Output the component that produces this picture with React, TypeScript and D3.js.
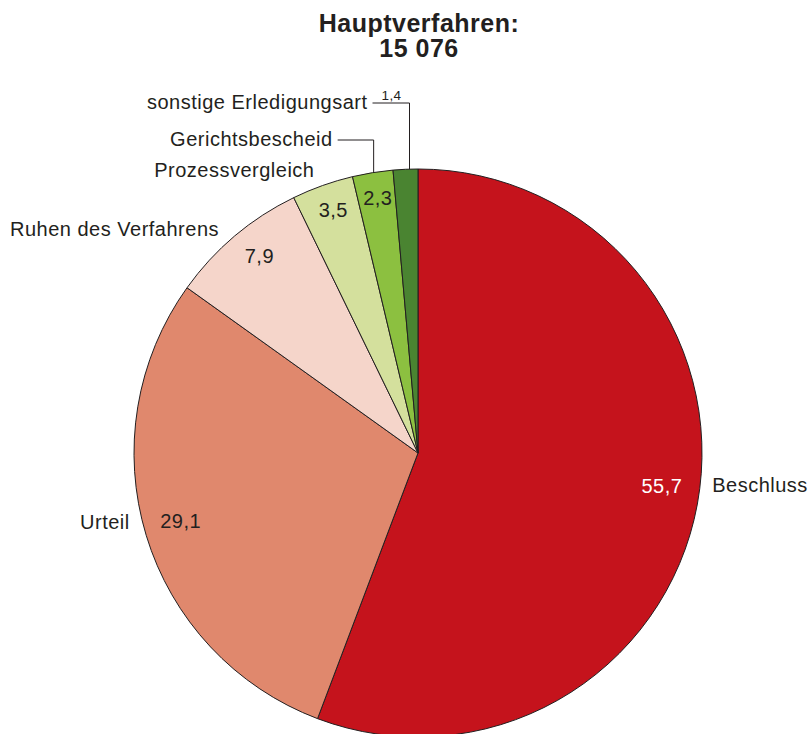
import React from "react";
import * as d3 from "d3";

const titleLines = ["Hauptverfahren:", "15 076"];
const categories = ["Beschluss", "Urteil", "Ruhen des Verfahrens", "Prozessvergleich", "Gerichtsbescheid", "sonstige Erledigungsart"];
const values = [55.7, 29.1, 7.9, 3.5, 2.3, 1.4];
const valueLabels = ["55,7", "29,1", "7,9", "3,5", "2,3", "1,4"];
const colors = ["#c5131c", "#e0886d", "#f5d5ca", "#d4e09d", "#8cc040", "#4a8431"];

const W = 810;
const H = 734;
const cx = 418;
const cy = 453;
const R = 284;
const FONT = "'Liberation Sans', Arial, Helvetica, sans-serif";
const INK = "#231f20";

// label styling/layout per slice (not data)
type InnerCfg = { r: number; dx: number; dy: number; fill: string };
const innerCfg: InnerCfg[] = [
  { r: 250, dx: -2, dy: -12, fill: "#ffffff" },
  { r: 250, dx: 2, dy: -4, fill: INK },
  { r: 252, dx: 4, dy: -4, fill: INK },
  { r: 258, dx: 2, dy: 0, fill: INK },
  { r: 258, dx: 1, dy: 0, fill: INK },
];
type OuterCfg = { off: number; dx: number; dy: number; anchor: string };
const outerCfg: OuterCfg[] = [
  { off: 12, dx: 3, dy: -14, anchor: "start" },
  { off: 12, dx: -5, dy: -10, anchor: "end" },
  { off: 12, dx: -8, dy: 9, anchor: "end" },
  { off: 12, dx: -4, dy: 3, anchor: "end" },
];
// leader-line labels (indices 4,5)
type LeaderCfg = { idx: number; lineY: number; len: number; dx: number };
const leaderCfg: LeaderCfg[] = [
  { idx: 4, lineY: 140, len: 36, dx: 1 },
  { idx: 5, lineY: 103, len: 37, dx: 4 },
];

export default function App() {
  const pie = d3
    .pie<number>()
    .sort(null)
    .value((d) => d)
    .startAngle(0)
    .endAngle(2 * Math.PI);
  const arcs = pie(values);
  const arc = d3.arc<d3.PieArcDatum<number>>().innerRadius(0).outerRadius(R);

  const pt = (angle: number, r: number): [number, number] => [
    cx + r * Math.sin(angle),
    cy - r * Math.cos(angle),
  ];
  const mid = (a: d3.PieArcDatum<number>) => (a.startAngle + a.endAngle) / 2;

  return (
    <svg
      width={W}
      height={H}
      style={{ position: "absolute", left: 0, top: 0, background: "#fff" }}
      fontFamily={FONT}
    >
      <text x={419} y={31.5} textAnchor="middle" fontSize={25} fontWeight="bold" letterSpacing={0.5} fill={INK}>
        {titleLines[0]}
      </text>
      <text x={419} y={57} textAnchor="middle" fontSize={25} fontWeight="bold" letterSpacing={0.5} fill={INK}>
        {titleLines[1]}
      </text>

      <g transform={`translate(${cx},${cy})`}>
        {arcs.map((a, i) => (
          <path key={i} d={arc(a) || ""} fill={colors[i]} stroke={INK} strokeWidth={1} strokeLinejoin="round" />
        ))}
      </g>

      {innerCfg.map((c, i) => {
        const [x, y] = pt(mid(arcs[i]), c.r);
        return (
          <text
            key={"in" + i}
            x={x + c.dx}
            y={y + c.dy}
            textAnchor="middle"
            dominantBaseline="central"
            fontSize={20}
            letterSpacing={0.5}
            fill={c.fill}
          >
            {valueLabels[i]}
          </text>
        );
      })}

      {outerCfg.map((c, i) => {
        const [x, y] = pt(mid(arcs[i]), R + c.off);
        return (
          <text
            key={"out" + i}
            x={x + c.dx}
            y={y + c.dy}
            textAnchor={c.anchor as any}
            fontSize={20}
            letterSpacing={0.5}
            fill={INK}
          >
            {categories[i]}
          </text>
        );
      })}

      {leaderCfg.map((c) => {
        const a = mid(arcs[c.idx]);
        const [ex] = pt(a, R);
        const lx = ex + c.dx;
        const edgeY = cy - Math.sqrt(R * R - (lx - cx) * (lx - cx));
        const hx = lx - c.len;
        return (
          <g key={"ld" + c.idx}>
            <polyline
              points={`${hx},${c.lineY} ${lx},${c.lineY} ${lx},${edgeY}`}
              fill="none"
              stroke={INK}
              strokeWidth={1}
            />
            <text x={hx - 5} y={c.lineY + 6} textAnchor="end" fontSize={20} letterSpacing={0.5} fill={INK}>
              {categories[c.idx]}
            </text>
          </g>
        );
      })}

      {(() => {
        const c = leaderCfg[1];
        const [ex] = pt(mid(arcs[c.idx]), R);
        const lx = ex + c.dx;
        return (
          <text x={lx - 18} y={c.lineY - 3} textAnchor="middle" fontSize={13.5} letterSpacing={0.4} fill={INK}>
            {valueLabels[5]}
          </text>
        );
      })()}
    </svg>
  );
}
